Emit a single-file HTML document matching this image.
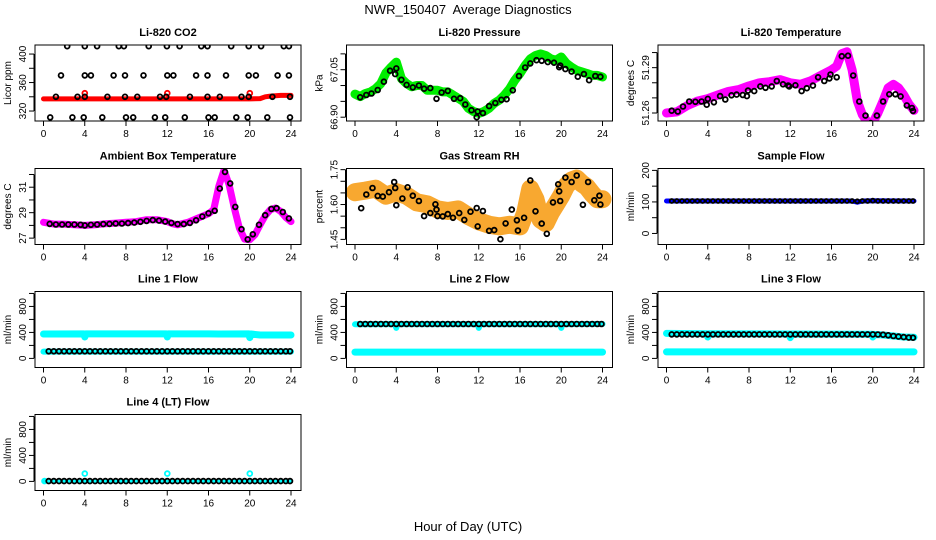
<!DOCTYPE html>
<html><head><meta charset="utf-8"><style>
html,body{margin:0;padding:0;background:#fff}
svg{display:block;font-family:"Liberation Sans",Arial,sans-serif}
</style></head><body>
<svg id="chart" width="936" height="540" viewBox="0 0 936 540" xmlns="http://www.w3.org/2000/svg">
<text x="468" y="14" font-size="13" text-anchor="middle" style="white-space:pre">NWR_150407  Average Diagnostics</text>
<text x="468" y="531" font-size="13" text-anchor="middle">Hour of Day (UTC)</text>
</svg>
<script>
// ---- data arrays ----
const xTicks=[0,4,8,12,16,20,24];
// CO2
const co2BandX=[0,4,8,12,16,20,21,21.5,22,23,24];
const co2BandY=[337,337,337,337,337,337,337.5,340,341,342,342];
const co2RedX=[4,12,20];
const co2RedY=[345,345,345];
const co2PtX=[2.3,4.0,5.2,7.3,7.8,10.2,11.97,13.2,15.3,15.9,18.2,19.9,21.1,23.3,23.8,
1.7,4.0,4.6,6.8,7.9,9.7,12.0,12.6,14.8,15.9,17.7,19.9,20.6,22.7,23.8,
1.2,3.3,4.0,6.2,7.9,9.1,11.3,11.9,14.2,15.9,17.1,19.2,19.9,22.2,23.9,
0.65,2.8,3.9,5.7,8.0,8.7,10.8,11.8,13.7,16.0,16.6,18.7,19.8,21.7,23.9];
const co2PtY=[411,411,411,411,411,411,411,411,411,411,411,411,411,411,411,
370,370,370,370,370,370,370,370,370,370,370,370,370,370,370,
340,340,340,340,340,340,340,340,340,340,340,340,340,340,340,
311,311,311,311,311,311,311,311,311,311,311,311,311,311,311];
// Pressure
const presBandX=[0,0.5,1,1.5,2,2.5,3,3.5,4,4.5,5,5.5,6,6.5,7,7.5,8,8.5,9,9.5,10,10.5,11,11.5,12,12.5,13,13.5,14,14.5,15,15.5,16,16.5,17,17.5,18,18.5,19,19.5,20,20.5,21,21.5,22,22.5,23,23.5,24];
const presBandY=[66.973,66.965,66.975,66.98,66.99,67.006,67.04,67.058,67.074,67.022,67.006,66.996,67.0,67.0,66.985,66.985,66.985,66.98,66.98,66.97,66.96,66.95,66.928,66.918,66.912,66.918,66.928,66.944,66.954,66.97,66.99,67.017,67.038,67.064,67.084,67.095,67.1,67.095,67.084,67.08,67.09,67.07,67.058,67.048,67.043,67.038,67.032,67.032,67.027];
const presPtX=[0.5,1.1,1.6,2.2,2.8,3.4,3.9,4.0,4.5,5.0,5.6,6.2,6.7,7.3,7.9,8.4,9.0,9.6,10.2,10.7,11.3,11.8,11.9,12.4,13.0,13.6,14.2,14.7,15.3,15.9,16.5,17.0,17.6,18.1,18.7,19.3,19.8,19.9,20.4,21.0,21.6,22.2,22.7,23.3,23.8];
const presPtY=[66.963,66.97,66.975,66.986,67.012,67.047,67.036,67.054,67.018,67.002,66.994,67.0,66.99,66.992,66.958,66.978,66.983,66.958,66.96,66.94,66.922,66.9,66.918,66.913,66.935,66.945,66.955,66.957,66.985,67.03,67.057,67.07,67.08,67.078,67.074,67.072,67.058,67.063,67.052,67.044,67.028,67.036,67.017,67.03,67.028];
// Li-820 temperature
const tempBandX=[0,1,2,3,4,5,6,7,8,9,10,11,12,13,14,15,16,16.5,17,17.5,18,18.5,19,19.5,20,20.5,21,21.5,22,22.5,23,23.5,24];
const tempBandY=[51.26,51.2607,51.2648,51.2679,51.2695,51.272,51.2743,51.2755,51.2779,51.28,51.2807,51.2821,51.28,51.279,51.2814,51.285,51.2886,51.291,51.2993,51.3005,51.2886,51.268,51.2588,51.254,51.2536,51.26,51.268,51.2767,51.279,51.2767,51.272,51.266,51.2617];
const tempPtX=[0.5,1.1,1.6,2.2,2.8,3.4,3.9,4.0,4.6,5.2,5.7,6.3,6.8,7.4,7.8,7.9,8.5,9.1,9.6,10.2,10.7,11.3,11.8,11.9,12.5,13.1,13.6,14.2,14.7,15.3,15.8,15.9,16.5,17.0,17.6,18.1,18.7,19.3,19.8,20.4,21.0,21.6,22.2,22.7,23.3,23.8,23.9];
const tempPtY=[51.2615,51.261,51.2643,51.2676,51.2674,51.2676,51.2655,51.2693,51.2671,51.2712,51.2689,51.2717,51.2722,51.2719,51.2712,51.2748,51.2745,51.2776,51.2767,51.2776,51.2812,51.279,51.2781,51.2776,51.2783,51.2745,51.2764,51.2781,51.2836,51.2812,51.2829,51.2855,51.2836,51.2976,51.2979,51.2848,51.2676,51.2583,51.2533,51.2583,51.2676,51.2724,51.2724,51.271,51.265,51.2633,51.2614];
// Ambient
const ambBandX=[0,1,2,3,4,5,6,7,8,9,10,11,12,12.5,13,14,15,16,16.5,17,17.5,18,18.5,19,19.5,20,20.5,21,21.5,22,22.5,23,23.5,24];
const ambBandY=[28.24,28.1,28.1,28.05,28.0,28.05,28.13,28.18,28.24,28.3,28.45,28.45,28.3,28.13,28.05,28.24,28.58,28.92,29.24,31.08,32.34,31.2,29.37,27.79,26.92,26.87,27.26,28.05,28.76,29.24,29.37,29.1,28.63,28.3];
const ambPtX=[0.6,1.2,1.8,2.4,3.0,3.6,4.0,4.6,5.2,5.8,6.4,7.0,7.6,8.2,8.8,9.4,10.0,10.6,11.2,11.8,12.4,13.0,13.6,14.2,14.8,15.4,16.0,16.6,17.1,17.6,18.1,18.6,19.2,19.8,20.3,20.9,21.5,22.1,22.6,23.2,23.8];
const ambPtY=[28.12,28.07,28.07,28.07,28.07,28.05,28.0,28.05,28.07,28.1,28.12,28.15,28.15,28.18,28.22,28.28,28.35,28.42,28.38,28.3,28.2,28.1,28.1,28.2,28.4,28.7,28.95,29.15,30.9,32.2,31.3,29.45,27.7,26.9,27.3,28.05,28.8,29.3,29.35,29.05,28.55];
// RH
const rhBandX=[0,1,2,3,4,5,6,7,8,9,10,11,12,13,14,15,16,16.5,17,17.5,18,18.5,19,19.5,20,20.5,21,21.5,22,22.5,23,23.5,24];
const rhBandY=[1.653,1.66,1.668,1.638,1.653,1.638,1.609,1.601,1.579,1.572,1.579,1.55,1.528,1.513,1.506,1.513,1.506,1.565,1.668,1.623,1.535,1.52,1.565,1.601,1.638,1.682,1.704,1.712,1.69,1.675,1.646,1.623,1.623];
const rhPtX=[0.6,1.1,1.7,2.2,2.7,3.3,3.8,3.9,4.0,4.6,5.1,5.6,6.2,6.7,7.3,7.8,7.9,8.0,8.5,9.0,9.5,10.1,10.6,11.2,11.8,11.9,12.4,13.0,13.5,14.1,14.6,15.2,15.7,15.8,16.4,17.0,17.5,18.1,18.6,19.2,19.7,19.8,19.9,20.4,21.0,21.5,22.1,22.6,23.2,23.7,23.8];
const rhPtY=[1.584,1.643,1.671,1.637,1.634,1.653,1.697,1.671,1.597,1.626,1.674,1.638,1.615,1.55,1.563,1.601,1.578,1.55,1.549,1.559,1.543,1.563,1.534,1.569,1.585,1.506,1.572,1.487,1.49,1.451,1.519,1.578,1.532,1.488,1.543,1.704,1.571,1.518,1.474,1.609,1.687,1.657,1.615,1.716,1.697,1.725,1.599,1.697,1.618,1.638,1.6];
// Flows
const flowHours=[0.5,1,1.5,2,2.5,3,3.5,4,4.5,5,5.5,6,6.5,7,7.5,8,8.5,9,9.5,10,10.5,11,11.5,12,12.5,13,13.5,14,14.5,15,15.5,16,16.5,17,17.5,18,18.5,19,19.5,20,20.5,21,21.5,22,22.5,23,23.5,23.9];
const sampleBandX=[0,4,8,12,16,18,18.5,19,20,24];
const sampleBandY=[103,103,103,103,103,103,99,103,104,103];
const samplePts=[103,103,103,103,103,103,103,103,103,103,103,103,103,103,103,103,103,103,103,103,103,103,103,103,103,103,103,103,103,103,103,103,103,103,103,103,102,103,103,104,103,103,103,103,103,103,103,103];
const line1HighX=[0,3.9,4.0,4.1,11.9,12.0,12.1,16,17,19.9,20.0,20.1,21,24];
const line1HighY=[375,378,330,378,378,330,378,378,375,378,320,375,360,360];
const line1LowX=[0,24];
const line1LowY=[105,105];
const line1Pts=[110,110,110,110,110,110,110,110,110,110,110,110,110,110,110,110,110,110,110,110,110,110,110,110,110,110,110,110,110,110,110,110,110,110,110,110,110,110,110,110,110,110,110,110,110,110,110,110];
const line2HighX=[0,3.9,4.0,4.1,11.9,12.0,12.1,19.9,20.0,20.1,24];
const line2HighY=[525,528,470,528,528,470,528,528,470,528,530];
const line2LowX=[0,24];
const line2LowY=[97,97];
const line2Pts=[530,530,530,530,530,530,530,530,530,530,530,530,530,530,530,530,530,530,530,530,530,530,530,530,530,530,530,530,530,530,530,530,530,530,530,530,530,530,530,530,530,530,530,530,530,530,530,530];
const line3HighX=[0,3.9,4.0,4.1,11.9,12.0,12.1,19.9,20.0,20.1,21,22,23,24];
const line3HighY=[385,380,330,380,375,320,375,372,330,370,360,345,330,325];
const line3LowX=[0,24];
const line3LowY=[100,100];
const line3Pts=[370,370,370,370,370,370,370,370,370,370,370,370,370,370,370,370,370,370,370,370,370,370,370,370,370,370,370,370,370,370,370,370,370,370,370,370,370,370,370,370,368,365,355,345,335,328,320,318];
const line4BandX=[0,24];
const line4BandY=[5,5];
const line4CyanX=[0.1,4,12,20];
const line4CyanY=[5,120,120,120];
const line4Pts=[5,5,5,5,5,5,5,5,5,5,5,5,5,5,5,5,5,5,5,5,5,5,5,5,5,5,5,5,5,5,5,5,5,5,5,5,5,5,5,5,5,5,5,5,5,5,5,5];

// ---- layout ----
const NS='http://www.w3.org/2000/svg';
const svg=document.getElementById('chart');
const colL=[35,346.5,658], rowT=[45,168.5,291.5,414.5], W=266, H=76;
function mk(tag,attrs,parent){const e=document.createElementNS(NS,tag);for(const k in attrs)e.setAttribute(k,attrs[k]);(parent||svg).appendChild(e);return e;}

function makePanel(cfg){
  const L=colL[cfg.col], T=rowT[cfg.row];
  const g=mk('g',{});
  
  
  const sx=h=>L+8.5+h*247.5/24;
  const sy=v=>T+(cfg.yTop-v)/(cfg.yTop-cfg.yBot)*H;
  const clip='clip-'+cfg.name;
  const cp=mk('clipPath',{id:clip},g);
  mk('rect',{x:L,y:T,width:W,height:H},cp);
  const plot=mk('g',{'clip-path':'url(#'+clip+')'},g);
  cfg.series.forEach(s=>{
    if(s.type==='band'){
      const d=s.x.map((h,i)=>(i?'L':'M')+sx(h).toFixed(1)+','+sy(s.y[i]).toFixed(1)).join('');
      const p=mk('path',{d:d,fill:'none',stroke:s.color,'stroke-width':s.w,'stroke-linejoin':'round','stroke-linecap':'round'},plot);
      
      
    } else {
      const pg=mk('g',{},plot);
      
      
      s.x.forEach((h,i)=>{
        const c=mk('circle',{cx:sx(h).toFixed(1),cy:sy(s.y[i]).toFixed(1),r:s.r||2.4,fill:'none',stroke:s.color,'stroke-width':s.sw||1.8},pg);
        
        
      });
    }
  });
  const b=mk('rect',{x:L,y:T,width:W,height:H,fill:'none',stroke:'#000','stroke-width':1},g);
  
  
  const t=mk('text',{x:L+W/2,y:T-9,'font-size':11,'font-weight':'bold','text-anchor':'middle'},g);
  t.textContent=cfg.title;
  
  
  const xa=mk('g',{},g);
  
  
  mk('line',{x1:sx(0),x2:sx(24),y1:T+H,y2:T+H,stroke:'#000'},xa);
  xTicks.forEach(v=>{
    mk('line',{x1:sx(v),x2:sx(v),y1:T+H,y2:T+H+5,stroke:'#000'},xa);
    const lt=mk('text',{x:sx(v),y:T+H+16,'font-size':10,'text-anchor':'middle'},xa);
    lt.textContent=v;
    
    
  });
  const ya=mk('g',{},g);
  
  
  const tk=cfg.ticks;
  mk('line',{x1:L-1,x2:L-1,y1:sy(tk[0]),y2:sy(tk[tk.length-1]),stroke:'#000'},ya);
  tk.forEach(v=>mk('line',{x1:L-6,x2:L-1,y1:sy(v),y2:sy(v),stroke:'#000'},ya));
  cfg.labels.forEach((lab,i)=>{
    const yy=sy(cfg.labelVals[i]);
    const lt=mk('text',{x:L-9,y:yy,'font-size':10,'text-anchor':'middle',transform:'rotate(-90 '+(L-9)+' '+yy+')'},ya);
    lt.textContent=lab;
    
    
  });
  const yl=mk('text',{x:L-24,y:T+H/2,'font-size':10,'text-anchor':'middle',transform:'rotate(-90 '+(L-24)+' '+(T+H/2)+')'},ya);
  yl.textContent=cfg.ylab;
  
  
}

const flowTicks=[0,200,400,600,800,1000], flowLabs=['0','400','800'], flowLabV=[0,400,800];
const panels=[
 {name:'co2',col:0,row:0,title:'Li-820 CO2',ylab:'Licor ppm',yTop:412.7,yBot:306,ticks:[320,340,360,380,400],labels:['320','360','400'],labelVals:[320,360,400],
  series:[{type:'band',name:'co2-band',x:co2BandX,y:co2BandY,color:'#ff0000',w:5},{type:'pts',name:'co2-red-points',x:co2RedX,y:co2RedY,color:'#ff0000'},{type:'pts',name:'co2-points',x:co2PtX,y:co2PtY,color:'#000'}]},
 {name:'pressure',col:1,row:0,title:'Li-820 Pressure',ylab:'kPa',yTop:67.128,yBot:66.888,ticks:[66.90,66.95,67.00,67.05,67.10],labels:['66.90','67.05'],labelVals:[66.90,67.05],
  series:[{type:'band',name:'pressure-band',x:presBandX,y:presBandY,color:'#00ee00',w:9},{type:'pts',name:'pressure-points',x:presPtX,y:presPtY,color:'#000'}]},
 {name:'li820-temp',col:2,row:0,title:'Li-820 Temperature',ylab:'degrees C',yTop:51.305,yBot:51.2547,ticks:[51.26,51.27,51.28,51.29,51.30],labels:['51.26','51.29'],labelVals:[51.26,51.29],
  series:[{type:'band',name:'li820-temp-band',x:tempBandX,y:tempBandY,color:'#ff00ff',w:9},{type:'pts',name:'li820-temp-points',x:tempPtX,y:tempPtY,color:'#000'}]},
 {name:'ambient',col:0,row:1,title:'Ambient Box Temperature',ylab:'degrees C',yTop:32.47,yBot:26.5,ticks:[27,28,29,30,31,32],labels:['27','29','31'],labelVals:[27,29,31],
  series:[{type:'band',name:'ambient-band',x:ambBandX,y:ambBandY,color:'#ff00ff',w:7},{type:'pts',name:'ambient-points',x:ambPtX,y:ambPtY,color:'#000'}]},
 {name:'rh',col:1,row:1,title:'Gas Stream RH',ylab:'percent',yTop:1.755,yBot:1.428,ticks:[1.45,1.50,1.55,1.60,1.65,1.70,1.75],labels:['1.45','1.60','1.75'],labelVals:[1.45,1.60,1.75],
  series:[{type:'band',name:'rh-band',x:rhBandX,y:rhBandY,color:'#f8a830',w:18},{type:'pts',name:'rh-points',x:rhPtX,y:rhPtY,color:'#000'}]},
 {name:'sample-flow',col:2,row:1,title:'Sample Flow',ylab:'ml/min',yTop:206,yBot:-35,ticks:[0,50,100,150,200],labels:['0','100','200'],labelVals:[0,100,200],
  series:[{type:'band',name:'sample-flow-band',x:sampleBandX,y:sampleBandY,color:'#0000ff',w:5},{type:'pts',name:'sample-flow-points',x:flowHours,y:samplePts,color:'#000',r:2}]},
 {name:'line1',col:0,row:2,title:'Line 1 Flow',ylab:'ml/min',yTop:1030,yBot:-140,ticks:flowTicks,labels:flowLabs,labelVals:flowLabV,
  series:[{type:'band',name:'line1-high-band',x:line1HighX,y:line1HighY,color:'#00ffff',w:7},{type:'band',name:'line1-low-band',x:line1LowX,y:line1LowY,color:'#00ffff',w:6},{type:'pts',name:'line1-points',x:flowHours,y:line1Pts,color:'#000'}]},
 {name:'line2',col:1,row:2,title:'Line 2 Flow',ylab:'ml/min',yTop:1030,yBot:-140,ticks:flowTicks,labels:flowLabs,labelVals:flowLabV,
  series:[{type:'band',name:'line2-high-band',x:line2HighX,y:line2HighY,color:'#00ffff',w:6},{type:'band',name:'line2-low-band',x:line2LowX,y:line2LowY,color:'#00ffff',w:7},{type:'pts',name:'line2-points',x:flowHours,y:line2Pts,color:'#000'}]},
 {name:'line3',col:2,row:2,title:'Line 3 Flow',ylab:'ml/min',yTop:1030,yBot:-140,ticks:flowTicks,labels:flowLabs,labelVals:flowLabV,
  series:[{type:'band',name:'line3-high-band',x:line3HighX,y:line3HighY,color:'#00ffff',w:7},{type:'band',name:'line3-low-band',x:line3LowX,y:line3LowY,color:'#00ffff',w:7},{type:'pts',name:'line3-points',x:flowHours,y:line3Pts,color:'#000'}]},
 {name:'line4',col:0,row:3,title:'Line 4 (LT) Flow',ylab:'ml/min',yTop:1030,yBot:-140,ticks:flowTicks,labels:flowLabs,labelVals:flowLabV,
  series:[{type:'band',name:'line4-band',x:line4BandX,y:line4BandY,color:'#00ffff',w:3},{type:'pts',name:'line4-cyan-points',x:line4CyanX,y:line4CyanY,color:'#00ffff',sw:1.8},{type:'pts',name:'line4-points',x:flowHours,y:line4Pts,color:'#000'}]}
];
panels.forEach(makePanel);
</script>
</body></html>
